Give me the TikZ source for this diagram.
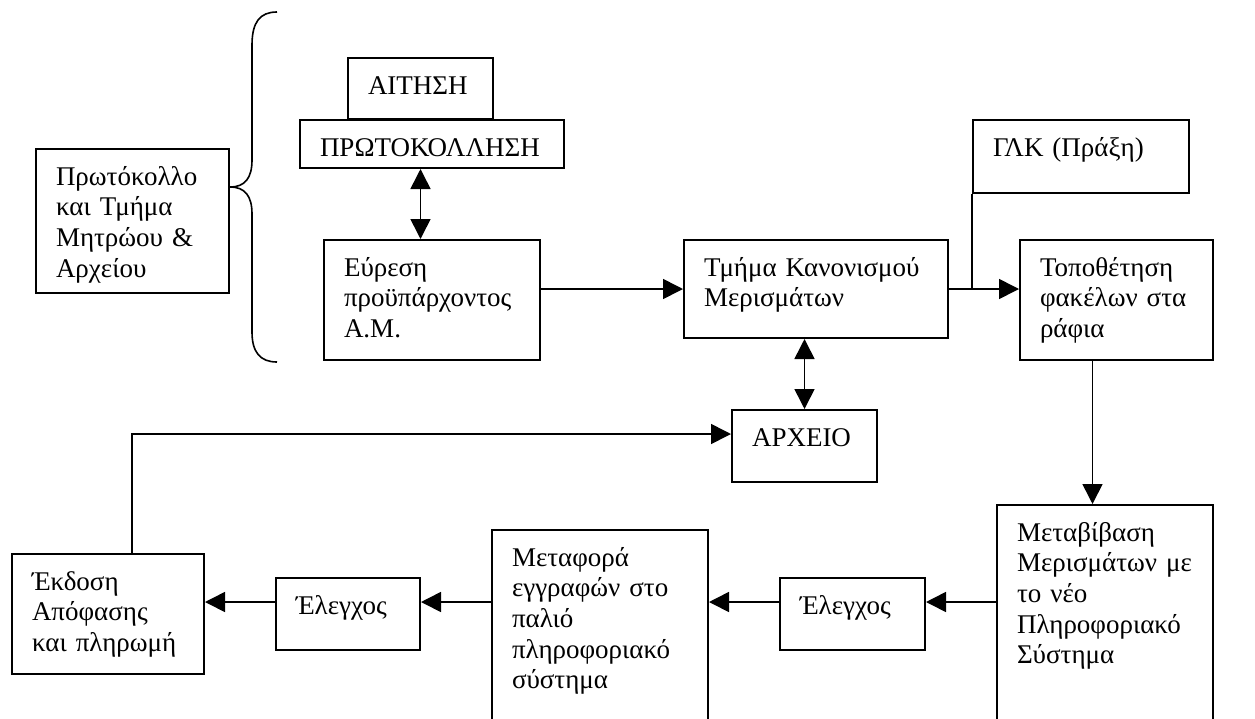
\documentclass[tikz,border=0pt]{standalone}
\usepackage{fontspec}
\setmainfont{Liberation Serif}
\usetikzlibrary{arrows.meta}

\begin{document}
\begin{tikzpicture}[x=1pt, y=-1pt, >={Triangle[length=20pt,width=20pt]},
    blk/.style={draw, line width=2pt, anchor=north west, inner xsep=20pt, inner ysep=0pt,
        align=left, text height=36pt, font=\fontsize{27}{30.7}\selectfont},
    link/.style={line width=1.6pt}]
    \useasboundingbox (0,0) rectangle (1255,718);
    \clip (0,0) rectangle (1255,718);
    % upper part
    \node[blk, text width=153pt, text depth=108pt] (prot) at (35,148) {Πρωτόκολλο\\και Τμήμα\\Μητρώου \&\\Αρχείου};
    \node[blk, text width=105pt, text depth=25pt] (aitisi) at (347,57) {ΑΙΤΗΣΗ};
    \node[blk, text width=224pt, text depth=12pt] (protok) at (299,119) {ΠΡΩΤΟΚΟΛΛΗΣΗ};
    \node[blk, text width=176pt, text depth=84pt] (evresi) at (323,239) {Εύρεση\\προϋπάρχοντος\\Α.Μ.};
    \node[blk, text width=224pt, text depth=62pt] (tmima) at (683,239) {Τμήμα Κανονισμού\\Μερισμάτων};
    \node[blk, text width=176pt, text depth=37pt] (glk) at (972,119) {ΓΛΚ (Πράξη)};
    \node[blk, text width=153pt, text depth=84pt] (topo) at (1019,239) {Τοποθέτηση\\φακέλων στα\\ράφια};
    \node[blk, text width=105pt, text depth=36pt] (arxeio) at (731,409) {ΑΡΧΕΙΟ};
    % lower part
    \node[blk, text width=176pt, text depth=224pt] (metav) at (996,504) {Μεταβίβαση\\Μερισμάτων με\\το νέο\\Πληροφοριακό\\Σύστημα};
    \node[blk, text width=105pt, text depth=36pt] (eleg2) at (779,577) {Έλεγχος};
    \node[blk, text width=176pt, text depth=224pt] (metaf) at (491,529) {Μεταφορά\\εγγραφών στο\\παλιό\\πληροφοριακό\\σύστημα};
    \node[blk, text width=104pt, text depth=36pt] (eleg1) at (275,577) {Έλεγχος};
    \node[blk, text width=152pt, text depth=84pt] (ekdosi) at (11,553) {Έκδοση\\Απόφασης\\και πληρωμή};
    % brace
    \draw[link] (277,12) .. controls (260,12) and (252,22) .. (252,45) -- (252,160)
        .. controls (252,178) and (245,187) .. (230,187)
        .. controls (245,187) and (252,196) .. (252,214) -- (252,332)
        .. controls (252,352) and (260,362) .. (277,362);
    % connectors
    \draw[link, <->] (aitisi.south |- protok.south) -- (aitisi.south |- evresi.north);
    \draw[link, ->] (tmima.west -| evresi.east) -- (tmima.west);
    \draw[link, ->] (tmima.east) -- (tmima.east -| topo.west);
    \draw[link] (glk.south west) -- (glk.south west |- tmima.east);
    \draw[link, <->] (arxeio.north |- tmima.south) -- (arxeio.north);
    \coordinate (drop) at ([xshift=-24pt]topo.south);
    \draw[link, ->] (drop) -- (drop |- metav.north);
    \coordinate (lane) at ([yshift=12pt]eleg1.east);
    \foreach \a/\b in {metav/eleg2, eleg2/metaf, metaf/eleg1, eleg1/ekdosi}
        \draw[link, ->] (\a.west |- lane) -- (\b.east |- lane);
    \draw[link, ->] ([xshift=24pt]ekdosi.north) |- ([yshift=12pt]arxeio.west);
\end{tikzpicture}
\end{document}
